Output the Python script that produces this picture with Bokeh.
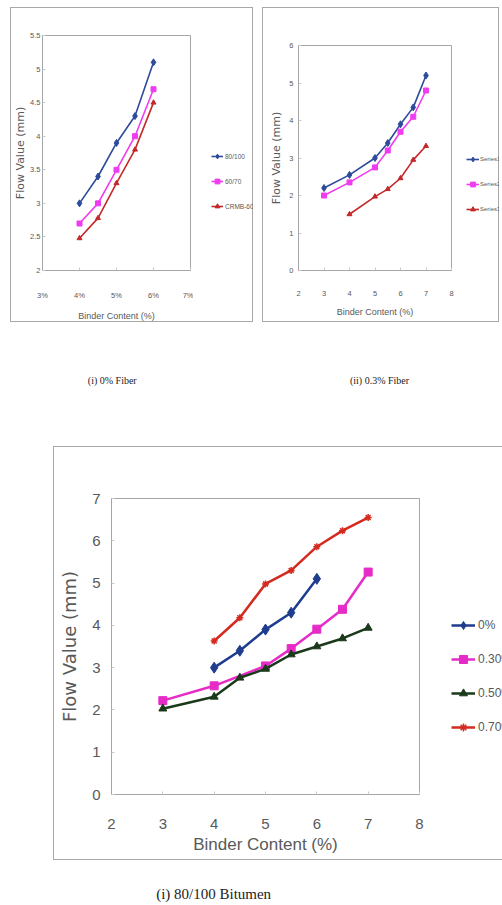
from bokeh.plotting import figure
from bokeh.models import Range1d, Legend, LegendItem, FixedTicker, Spacer
from bokeh.layouts import column, row
from bokeh.embed import file_html
from bokeh.resources import INLINE
from bokeh.core.properties import value

# ---------------- data: (i) 0% Fiber ----------------
a_binder = [4, 4.5, 5, 5.5, 6]
a_80_100 = [3.0, 3.4, 3.9, 4.3, 5.1]
a_60_70 = [2.7, 3.0, 3.5, 4.0, 4.7]
a_crmb60 = [2.48, 2.78, 3.3, 3.8, 4.5]
a_names = ["80/100", "60/70", "CRMB-60"]
a_xticks = [3, 4, 5, 6, 7]
a_xtick_labels = ["3%", "4%", "5%", "6%", "7%"]
a_yticks = [2, 2.5, 3, 3.5, 4, 4.5, 5, 5.5]
a_ytick_labels = ["2", "2.5", "3", "3.5", "4", "4.5", "5", "5.5"]

# ---------------- data: (ii) 0.3% Fiber ----------------
b_binder = [3, 4, 5, 5.5, 6, 6.5, 7]
b_series1 = [2.2, 2.55, 3.0, 3.4, 3.9, 4.35, 5.2]
b_series2 = [2.0, 2.35, 2.75, 3.2, 3.7, 4.1, 4.8]
b_binder3 = [4, 5, 5.5, 6, 6.5, 7]
b_series3 = [1.5, 1.97, 2.17, 2.46, 2.95, 3.32]
b_names = ["Series1", "Series2", "Series3"]
b_xticks = [2, 3, 4, 5, 6, 7, 8]
b_yticks = [0, 1, 2, 3, 4, 5, 6]

# ---------------- data: 80/100 Bitumen ----------------
c_binder_0 = [4, 4.5, 5, 5.5, 6]
c_fiber_0 = [3.0, 3.4, 3.9, 4.3, 5.1]
c_binder_30 = [3, 4, 5, 5.5, 6, 6.5, 7]
c_fiber_30 = [2.22, 2.57, 3.04, 3.45, 3.91, 4.38, 5.26]
c_binder_50 = [3, 4, 4.5, 5, 5.5, 6, 6.5, 7]
c_fiber_50 = [2.03, 2.31, 2.76, 2.97, 3.31, 3.5, 3.69, 3.94]
c_binder_70 = [4, 4.5, 5, 5.5, 6, 6.5, 7]
c_fiber_70 = [3.63, 4.18, 4.98, 5.3, 5.86, 6.24, 6.55]
c_names = ["0%", "0.30%", "0.50%", "0.70%"]
c_xticks = [2, 3, 4, 5, 6, 7, 8]
c_yticks = [0, 1, 2, 3, 4, 5, 6, 7]

captions_top = ["(i)  0% Fiber", "(ii) 0.3% Fiber"]
caption_bottom = "(i)  80/100 Bitumen"
x_title = "Binder Content (%)"
y_title = "Flow Value (mm)"

NARROW = "'Liberation Sans Narrow', 'Liberation Sans', Arial, sans-serif"
WIDE = "'DejaVu Sans', Verdana, sans-serif"
SERIF = "'Liberation Serif', 'Times New Roman', serif"
GRAY = "#595959"
FRAME = "#a6a6a6"
BORDER = "1px solid #a8a8a8"


def css(*sides):
    s = {"box-sizing": "border-box"}
    for side in sides:
        s["border-" + side] = BORDER
    return s


def chart(W, H, xr, yr, mb, xticks, yticks, xlabels=None, ylabels=None,
          tick_fs="7.5px", xlab_fs="9px", ylab_fs="11px",
          xstand=(20, 8), ystand=(5, 5), sides=()):
    p = figure(width=W, height=H, x_range=Range1d(*xr), y_range=Range1d(*yr),
               output_backend="svg", toolbar_location=None,
               min_border_left=mb[0], min_border_right=mb[1],
               min_border_top=mb[2], min_border_bottom=mb[3])
    p.grid.visible = False
    p.outline_line_color = FRAME
    p.outline_line_width = 1
    p.xaxis.ticker = FixedTicker(ticks=xticks)
    p.yaxis.ticker = FixedTicker(ticks=yticks)
    if xlabels:
        p.xaxis.major_label_overrides = dict(zip(xticks, xlabels))
    if ylabels:
        p.yaxis.major_label_overrides = dict(zip(yticks, ylabels))
    for ax in (p.xaxis[0], p.yaxis[0]):
        ax.axis_line_color = FRAME
        ax.major_tick_line_color = "#c8c8c8"
        ax.major_tick_in = 3
        ax.major_tick_out = 0
        ax.minor_tick_line_color = None
        ax.major_label_text_font = NARROW
        ax.major_label_text_font_size = tick_fs
        ax.major_label_text_color = GRAY
        ax.axis_label_text_font_style = "normal"
        ax.axis_label_text_color = GRAY
    p.xaxis.axis_label = x_title
    p.xaxis.axis_label_text_font = NARROW
    p.xaxis.axis_label_text_font_size = xlab_fs
    p.xaxis.major_label_standoff = xstand[0]
    p.xaxis.axis_label_standoff = xstand[1]
    p.yaxis.axis_label = y_title
    p.yaxis.axis_label_text_font = WIDE
    p.yaxis.axis_label_text_font_size = ylab_fs
    p.yaxis.major_label_standoff = ystand[0]
    p.yaxis.axis_label_standoff = ystand[1]
    p.styles = css(*sides)
    return p


def series(p, xs, ys, color, marker, msize, lw):
    p.line(xs, ys, line_color=color, line_width=lw)
    p.scatter(xs, ys, marker=marker, size=msize, fill_color=color,
              line_color=color, line_width=1.5 if marker == "asterisk" else 1)


def legend_panel(W, H, mb_top, mb_bottom, data, names, colors, markers, msizes, lw,
                 vx, vy, gw, gh, sp, fs, stand, sides):
    # a separate small panel that carries the legend; its ranges keep the
    # series (drawn only to feed the legend glyphs) out of view
    q = figure(width=W, height=H, x_range=Range1d(0, 1), y_range=Range1d(-1, 0),
               x_axis_type=None, y_axis_type=None, output_backend="svg",
               toolbar_location=None, min_border_left=0, min_border_right=0,
               min_border_top=mb_top, min_border_bottom=mb_bottom)
    q.grid.visible = False
    q.outline_line_color = None
    items = []
    for (xs, ys), name, color, marker, ms in zip(data, names, colors, markers, msizes):
        r1 = q.line(xs, ys, line_color=color, line_width=lw)
        r2 = q.scatter(xs, ys, marker=marker, size=ms, fill_color=color,
                       line_color=color, line_width=1.5 if marker == "asterisk" else 1)
        items.append(LegendItem(label=name, renderers=[r1, r2]))
    leg = Legend(items=items, location=(vx, vy), orientation="vertical",
                 glyph_width=gw, glyph_height=gh, label_height=gh,
                 spacing=sp, padding=0, margin=0, label_standoff=stand,
                 border_line_alpha=0, background_fill_alpha=0,
                 label_text_font=NARROW, label_text_font_size=fs,
                 label_text_color=GRAY)
    q.add_layout(leg)
    q.styles = css(*sides)
    return q


TOP_COLORS = ["#2d4a9b", "#f03cf0", "#c4282a"]
TOP_MARKERS = ["diamond", "square", "triangle"]

# ----- chart (i) -----
pa = chart(183, 315, (3, 7), (2, 5.5), (31, 4, 27, 53), a_xticks, a_yticks,
           a_xtick_labels, a_ytick_labels, ystand=(2, 0),
           sides=("left", "top", "bottom"))
series(pa, a_binder, a_80_100, TOP_COLORS[0], TOP_MARKERS[0], 7, 1.6)
series(pa, a_binder, a_60_70, TOP_COLORS[1], TOP_MARKERS[1], 5, 1.6)
series(pa, a_binder, a_crmb60, TOP_COLORS[2], TOP_MARKERS[2], 5, 1.6)
la = legend_panel(60, 315, 27, 53,
                  [(a_binder, a_80_100), (a_binder, a_60_70), (a_binder, a_crmb60)],
                  a_names, TOP_COLORS, TOP_MARKERS, [6, 5, 5], 1.6,
                  18, 58, 12, 12, 13, "6.5px", 2, ("top", "right", "bottom"))

# ----- chart (ii) -----
pb = chart(192, 315, (2, 8), (0, 6), (35, 4, 37, 53), b_xticks, b_yticks,
           ystand=(5, 3), sides=("left", "top", "bottom"))
series(pb, b_binder, b_series1, TOP_COLORS[0], TOP_MARKERS[0], 7, 1.6)
series(pb, b_binder, b_series2, TOP_COLORS[1], TOP_MARKERS[1], 5, 1.6)
series(pb, b_binder3, b_series3, TOP_COLORS[2], TOP_MARKERS[2], 5, 1.6)
lb = legend_panel(45, 315, 37, 53,
                  [(b_binder, b_series1), (b_binder, b_series2), (b_binder3, b_series3)],
                  b_names, TOP_COLORS, TOP_MARKERS, [6, 5, 5], 1.6,
                  12, 55, 13, 12, 13, "6px", 1, ("top", "right", "bottom"))

# ----- captions (top) -----
cap1 = figure(width=502, height=124, x_range=Range1d(0, 502), y_range=Range1d(0, 124),
              x_axis_type=None, y_axis_type=None, output_backend="svg",
              toolbar_location=None, min_border=0)
cap1.grid.visible = False
cap1.outline_line_color = None
cap1.text(x=[113, 379], y=[66, 66], text=captions_top, text_font=value(SERIF),
          text_font_size="10px", text_color="#222222", text_align="center",
          text_baseline="middle")

# ----- chart 80/100 Bitumen -----
BOT_COLORS = ["#1f3c8f", "#e62bc7", "#1b3a1b", "#d42a1f"]
BOT_MARKERS = ["diamond", "square", "triangle", "asterisk"]
pc = chart(377, 414, (2, 8), (0, 7), (57, 12, 51, 67), c_xticks, c_yticks,
           tick_fs="15px", xlab_fs="17px", ylab_fs="18px",
           xstand=(24, 3), ystand=(11, 9), sides=("left", "top", "bottom"))
series(pc, c_binder_0, c_fiber_0, BOT_COLORS[0], BOT_MARKERS[0], 11, 2.5)
series(pc, c_binder_30, c_fiber_30, BOT_COLORS[1], BOT_MARKERS[1], 8, 2.5)
series(pc, c_binder_50, c_fiber_50, BOT_COLORS[2], BOT_MARKERS[2], 8, 2.5)
series(pc, c_binder_70, c_fiber_70, BOT_COLORS[3], BOT_MARKERS[3], 7, 2.5)
lc = legend_panel(72, 414, 51, 67,
                  [(c_binder_0, c_fiber_0), (c_binder_30, c_fiber_30),
                   (c_binder_50, c_fiber_50), (c_binder_70, c_fiber_70)],
                  c_names, BOT_COLORS, BOT_MARKERS, [10, 9, 9, 9], 2.5,
                  21, 57, 24, 20, 14, "12px", 3, ("top", "bottom"))

# ----- caption (bottom) -----
cap2 = figure(width=502, height=45, x_range=Range1d(0, 502), y_range=Range1d(0, 45),
              x_axis_type=None, y_axis_type=None, output_backend="svg",
              toolbar_location=None, min_border=0)
cap2.grid.visible = False
cap2.outline_line_color = None
cap2.text(x=[215], y=[12], text=[caption_bottom], text_font=value(SERIF),
          text_font_size="15px", text_color="#222222", text_align="center",
          text_baseline="middle")

layout = column(
    Spacer(width=502, height=7),
    row(Spacer(width=10, height=315), row(pa, la), Spacer(width=9, height=315),
        row(pb, lb), Spacer(width=3, height=315)),
    cap1,
    row(Spacer(width=53, height=414), pc, lc),
    cap2,
)

open("out.html", "w").write(file_html(layout, INLINE))
